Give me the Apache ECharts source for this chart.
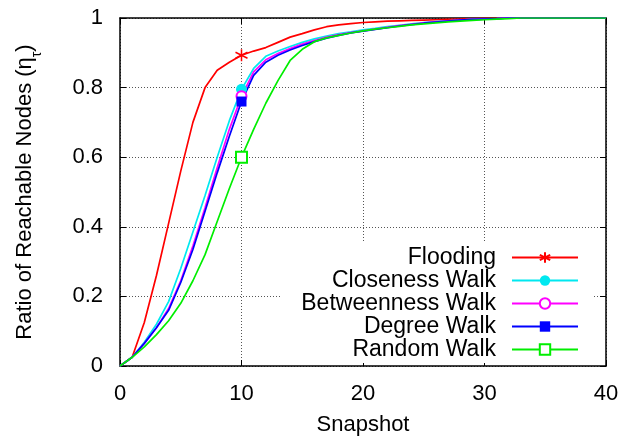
<!DOCTYPE html>
<html lang="en">
<head>
  <meta charset="UTF-8">
  <title>Reachable Nodes</title>
  <script src="https://cdn.jsdelivr.net/npm/echarts@6/dist/echarts.min.js"></script>
  <style>
    html, body {
      margin: 0;
      padding: 0;
      background: #fff;
    }
    #container {
      width: 634px;
      height: 436px;
    }
  </style>
</head>
<body>
  <div id="container"></div>
  <script>
    // snapshot index 0..40
    const snapshots = [];
    for (let i = 0; i <= 40; i++) snapshots.push(i);

    const flooding = [0, 0.025, 0.125, 0.26, 0.41, 0.56, 0.70, 0.80, 0.85, 0.873, 0.893,
      0.905, 0.915, 0.93, 0.945, 0.955, 0.966, 0.975, 0.98, 0.984, 0.987,
      0.989, 0.991, 0.992, 0.993, 0.994, 0.995, 0.996, 0.997, 0.998, 0.999,
      0.999, 1, 1, 1, 1, 1, 1, 1, 1, 1];
    const closeness = [0, 0.025, 0.068, 0.12, 0.185, 0.28, 0.385, 0.49, 0.60, 0.705, 0.795,
      0.855, 0.89, 0.905, 0.918, 0.93, 0.94, 0.948, 0.955, 0.96, 0.966,
      0.97, 0.975, 0.979, 0.983, 0.987, 0.99, 0.992, 0.994, 0.996, 0.997,
      0.998, 1, 1, 1, 1, 1, 1, 1, 1, 1];
    const betweenness = [0, 0.025, 0.065, 0.11, 0.165, 0.245, 0.345, 0.455, 0.57, 0.68, 0.775,
      0.845, 0.88, 0.898, 0.912, 0.925, 0.935, 0.945, 0.952, 0.958, 0.963,
      0.968, 0.973, 0.978, 0.982, 0.986, 0.989, 0.992, 0.994, 0.996, 0.997,
      0.998, 1, 1, 1, 1, 1, 1, 1, 1, 1];
    const degree = [0, 0.025, 0.065, 0.11, 0.16, 0.24, 0.335, 0.445, 0.555, 0.66, 0.76,
      0.835, 0.873, 0.893, 0.908, 0.921, 0.932, 0.942, 0.95, 0.957, 0.962,
      0.967, 0.972, 0.977, 0.981, 0.985, 0.988, 0.991, 0.994, 0.996, 0.997,
      0.998, 1, 1, 1, 1, 1, 1, 1, 1, 1];
    const random = [0, 0.025, 0.055, 0.09, 0.13, 0.18, 0.245, 0.32, 0.415, 0.51, 0.60,
      0.68, 0.755, 0.82, 0.878, 0.91, 0.932, 0.943, 0.95, 0.957, 0.963,
      0.968, 0.972, 0.976, 0.98, 0.983, 0.986, 0.989, 0.991, 0.993, 0.995,
      0.997, 0.998, 1, 1, 1, 1, 1, 1, 1, 1];

    const xTicks = [0, 10, 20, 30, 40];
    const yTicks = [0, 0.2, 0.4, 0.6, 0.8, 1];
    const markAt = 10; // gnuplot draws one point per curve at snapshot 10

    const font = 'Liberation Sans, Arial, Helvetica, sans-serif';
    const star = 'path://M0,-10L0,10M-8.66,-5L8.66,5M-8.66,5L8.66,-5';

    function points(values) {
      return values.map((v, i) => {
        if (snapshots[i] === markAt) return [snapshots[i], v];
        return { value: [snapshots[i], v], symbol: 'none' };
      });
    }

    function makeSeries(name, values, color, symbol, size, extraStyle) {
      return {
        name: name,
        type: 'line',
        data: points(values),
        symbol: symbol,
        symbolSize: size,
        showSymbol: true,
        showAllSymbol: true,
        animation: false,
        lineStyle: { color: color, width: 1.7 },
        itemStyle: Object.assign({ color: color }, extraStyle || {}),
        emphasis: { disabled: true },
      };
    }

    const chart = echarts.init(document.getElementById('container'));

    const axisCommon = {
      type: 'value',
      axisLine: { show: true, onZero: false, lineStyle: { color: '#000', width: 1.5 } },
      axisTick: { show: true, inside: true, length: 6, lineStyle: { color: '#000', width: 1 } },
      splitLine: { show: false },
    };

    const option = {
      backgroundColor: '#fff',
      animation: false,
      textStyle: { fontFamily: font },
      grid: { left: 120, right: 28, top: 18, bottom: 70, containLabel: false, outerBoundsMode: 'none' },
      xAxis: [
        Object.assign({}, axisCommon, {
          min: xTicks[0], max: xTicks[xTicks.length - 1], interval: 10,
          position: 'bottom',
          name: 'Snapshot',
          nameLocation: 'middle',
          nameGap: 48,
          nameTextStyle: { fontFamily: font, fontSize: 22, color: '#000' },
          axisLabel: { margin: 17, fontFamily: font, fontSize: 22, color: '#000' },
          splitLine: { show: true, lineStyle: { color: '#555', width: 1, type: [1, 2] } },
        }),
        Object.assign({}, axisCommon, {
          min: xTicks[0], max: xTicks[xTicks.length - 1], interval: 10,
          position: 'top',
          axisLabel: { show: false },
        }),
      ],
      yAxis: [
        Object.assign({}, axisCommon, {
          min: yTicks[0], max: yTicks[yTicks.length - 1], interval: 0.2,
          position: 'left',
          name: 'Ratio of Reachable Nodes (η{sub|τ})',
          nameLocation: 'middle',
          nameGap: 84,
          nameTextStyle: {
            fontFamily: font, fontSize: 22, color: '#000',
            rich: {
              sub: { fontFamily: font, fontSize: 14, color: '#000', verticalAlign: 'bottom', padding: [0, 0, -8, 0] },
            },
          },
          axisLabel: {
            margin: 17, fontFamily: font, fontSize: 22, color: '#000',
            formatter: (v) => (v === 0 || v === 1 ? String(v) : v.toFixed(1)),
          },
          splitLine: { show: true, lineStyle: { color: '#555', width: 1, type: [1, 2] } },
        }),
        Object.assign({}, axisCommon, {
          min: yTicks[0], max: yTicks[yTicks.length - 1], interval: 0.2,
          position: 'right',
          axisLabel: { show: false },
        }),
      ],
      legend: {
        orient: 'vertical',
        align: 'right',
        right: 42,
        top: 242,
        padding: [4, 13, 2, 20],
        backgroundColor: '#fff',
        itemWidth: 66,
        itemHeight: 13,
        itemGap: 0,
        selectedMode: false,
        textStyle: { fontFamily: font, fontSize: 23, color: '#000', lineHeight: 22, padding: [0, 11, 0, 0] },
        data: ['Flooding', 'Closeness Walk', 'Betweenness Walk', 'Degree Walk', 'Random Walk'],
      },
      series: [
        makeSeries('Flooding', flooding, '#ff0000', star, 12, { borderColor: '#ff0000', borderWidth: 1.5 }),
        makeSeries('Closeness Walk', closeness, '#00e8f0', 'circle', 11),
        makeSeries('Betweenness Walk', betweenness, '#ff00ff', 'emptyCircle', 10, { borderWidth: 1.5 }),
        makeSeries('Degree Walk', degree, '#0000ff', 'rect', 10),
        makeSeries('Random Walk', random, '#00ee00', 'emptyRect', 11, { borderWidth: 1.5 }),
      ],
    };

    chart.setOption(option);
  </script>
</body>
</html>
